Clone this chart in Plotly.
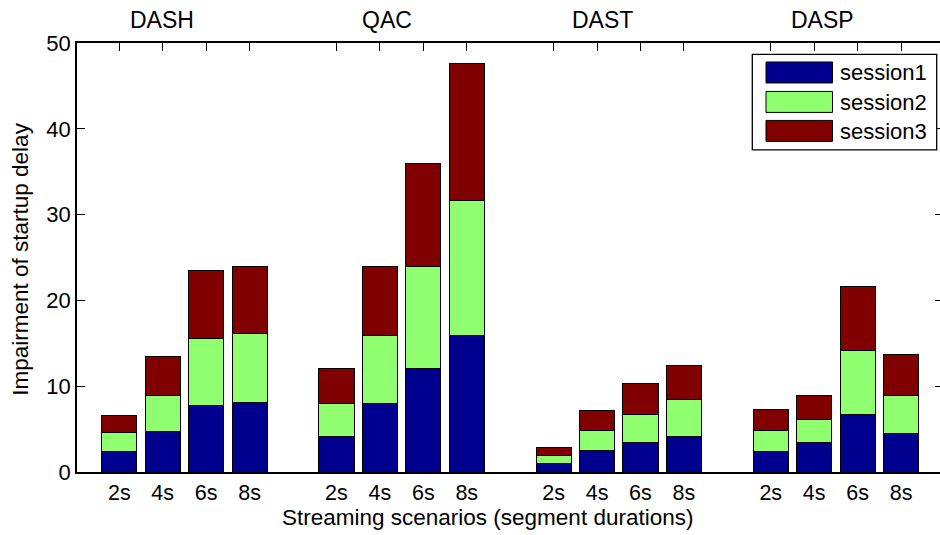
import plotly.graph_objects as go

# ---------------- data ----------------
groups = ["DASH", "QAC", "DAST", "DASP"]
durations = ["2s", "4s", "6s", "8s"]
series_names = ["session1", "session2", "session3"]
session1 = [2.35, 4.70, 7.80, 8.15, 4.10, 7.95, 12.05, 15.90, 1.00, 2.45, 3.45, 4.10, 2.40, 3.45, 6.75, 4.45]
session2 = [2.30, 4.25, 7.75, 7.95, 3.85, 7.95, 11.85, 15.70, 0.90, 2.35, 3.30, 4.40, 2.40, 2.70, 7.40, 4.45]
session3 = [1.95, 4.50, 7.95, 7.80, 4.10, 8.00, 12.10, 16.05, 1.00, 2.40, 3.55, 3.95, 2.45, 2.75, 7.45, 4.75]
y_ticks = [0, 10, 20, 30, 40, 50]
y_title = "Impairment of startup delay"
x_title = "Streaming scenarios (segment durations)"

colors = ["#00008F", "#8FFF70", "#800000"]
series = [session1, session2, session3]

# bar positions: 4 bars per group, one empty slot between groups
xpos = []
xlab = []
for g in range(len(groups)):
    for b in range(len(durations)):
        xpos.append(g * (len(durations) + 1) + b + 1)
        xlab.append(durations[b])

FONT = "Liberation Sans, Arial, Helvetica, sans-serif"
W, H = 940, 535
ML, MR, MT, MB = 77, 0, 43, 62.5
PW = W - ML - MR
PH = H - MT - MB
unit = 43.43  # pixels per x unit
x0 = 1 - 42.3 / unit
xr = [x0, x0 + PW / unit]

fig = go.Figure()
for name, vals, c in zip(series_names, series, colors):
    fig.add_trace(go.Bar(
        x=xpos, y=vals, name=name, width=0.81,
        marker=dict(color=c, line=dict(color="black", width=1)),
        showlegend=False,
    ))
# invisible trace to anchor right-hand tick axis
fig.add_trace(go.Scatter(x=[xpos[0]], y=[0], yaxis="y2", mode="markers",
                         marker=dict(opacity=0), showlegend=False, hoverinfo="skip"))


def px_x(p):
    return (p - ML) / PW


def px_y(p):
    return (H - MB - p) / PH


annotations = []
# group labels at top
group_label_x = [1.99, 7.17, 12.13, 17.18]
for gx, gname in zip(group_label_x, groups):
    annotations.append(dict(x=gx, y=px_y(20), xref="x", yref="paper", text=gname,
                            showarrow=False, xanchor="center", yanchor="middle",
                            font=dict(size=23, color="black", family=FONT)))
# axis titles
annotations.append(dict(x=px_x(487), y=px_y(518), xref="paper", yref="paper", text=x_title,
                        showarrow=False, xanchor="center", yanchor="middle",
                        font=dict(size=22.5, color="black", family=FONT)))
annotations.append(dict(x=px_x(21), y=px_y(260), xref="paper", yref="paper", text=y_title,
                        showarrow=False, xanchor="center", yanchor="middle", textangle=-90,
                        font=dict(size=22.5, color="black", family=FONT)))

# custom legend (MATLAB-like wide swatches)
shapes = []
box = dict(x0=752.3, x1=936.7, y0=54.3, y1=150)
shapes.append(dict(type="rect", xref="paper", yref="paper",
                   x0=px_x(box["x0"]), x1=px_x(box["x1"]),
                   y0=px_y(box["y1"]), y1=px_y(box["y0"]),
                   line=dict(color="black", width=1.3), fillcolor="white", layer="above"))
row_top = [62, 91.5, 120.5]
for i, (name, c) in enumerate(zip(series_names, colors)):
    t = row_top[i]
    shapes.append(dict(type="rect", xref="paper", yref="paper",
                       x0=px_x(766), x1=px_x(832.5), y0=px_y(t + 21), y1=px_y(t),
                       line=dict(color="black", width=1), fillcolor=c, layer="above"))
    annotations.append(dict(x=px_x(838), y=px_y(t + 11), xref="paper", yref="paper",
                            text=name, showarrow=False, xanchor="left", yanchor="middle",
                            font=dict(size=22, color="black", family=FONT)))

fig.update_layout(
    width=W, height=H,
    margin=dict(l=ML, r=MR, t=MT, b=MB, pad=0),
    barmode="stack",
    plot_bgcolor="white", paper_bgcolor="white",
    font=dict(family=FONT, size=20, color="black"),
    xaxis=dict(range=xr, tickmode="array", tickvals=xpos, ticktext=xlab,
               ticks="inside", ticklen=8, tickwidth=1, tickcolor="black",
               showline=True, linecolor="black", linewidth=1.5, mirror="ticks",
               showgrid=False, zeroline=False, layer="below traces",
               tickfont=dict(size=21.5, color="black", family=FONT)),
    yaxis=dict(range=[0, 50], tickmode="array", tickvals=y_ticks,
               ticks="inside", ticklen=8, tickwidth=1, tickcolor="black",
               showline=True, linecolor="black", linewidth=1.5, mirror=False,
               showgrid=False, zeroline=False,
               tickfont=dict(size=22, color="black", family=FONT)),
    yaxis2=dict(range=[0, 50], overlaying="y", side="right", tickmode="array",
                tickvals=y_ticks, showticklabels=False,
                ticks="inside", ticklen=5, tickwidth=1, tickcolor="black",
                showline=False, showgrid=False, zeroline=False),
    annotations=annotations,
    shapes=shapes,
)

fig.write_html("out.html")
